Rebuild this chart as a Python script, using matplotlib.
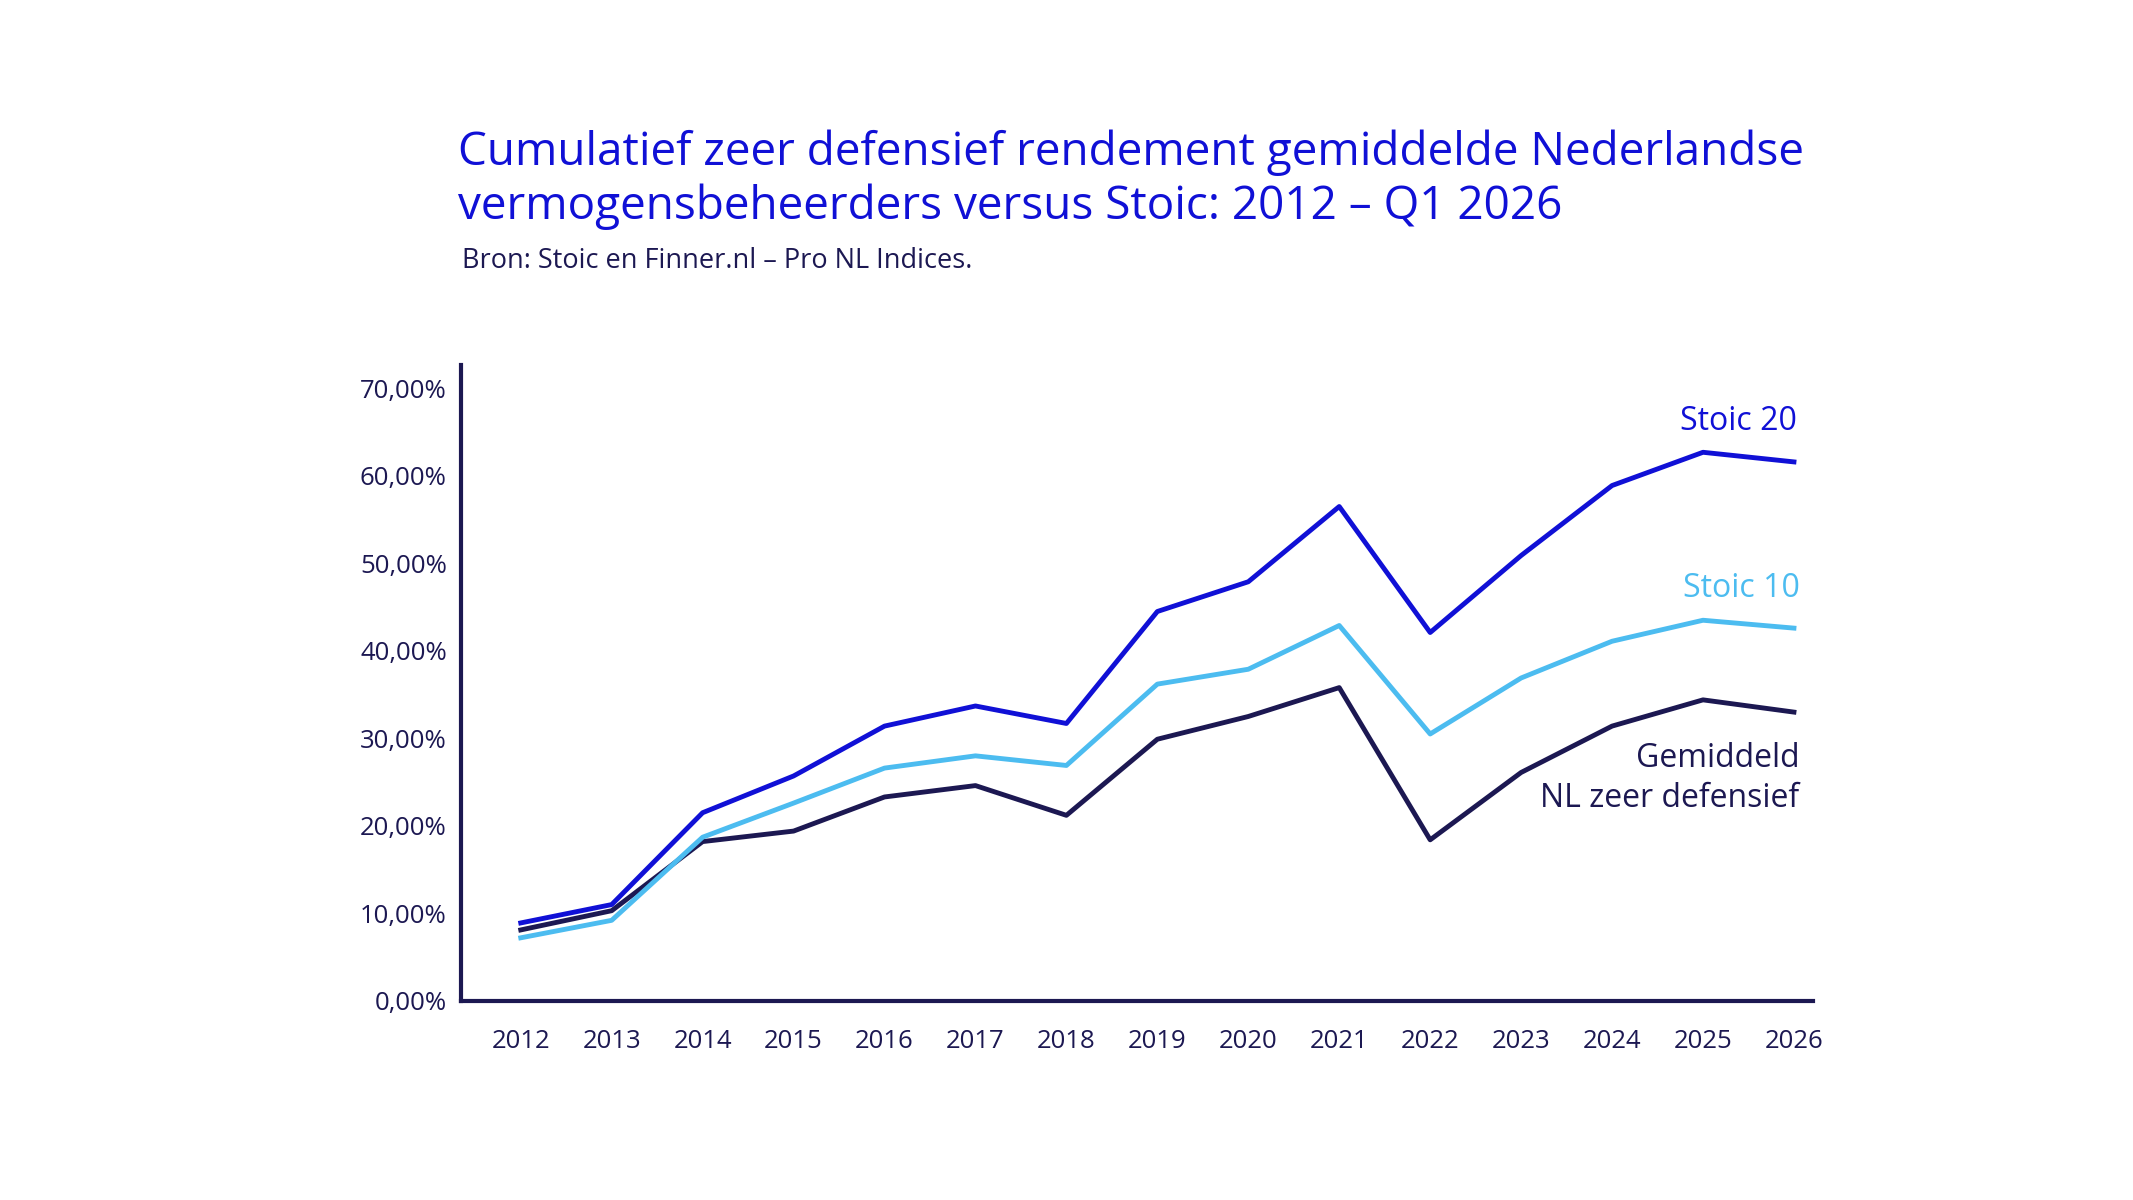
import matplotlib.pyplot as plt
from matplotlib.ticker import FuncFormatter

plt.rcParams["font.family"] = ["Open Sans", "DejaVu Sans"]

# Data (cumulatief rendement in %)
years = list(range(2012, 2027))
stoic20 = [8.9, 11.0, 21.5, 25.7, 31.4, 33.7, 31.7, 44.5, 47.9, 56.5, 42.1, 50.9, 58.9, 62.7, 61.6]
stoic10 = [7.2, 9.2, 18.7, 22.6, 26.6, 28.0, 26.9, 36.2, 37.9, 42.9, 30.5, 36.9, 41.1, 43.5, 42.6]
gemiddeld = [8.1, 10.3, 18.2, 19.4, 23.3, 24.6, 21.2, 29.9, 32.5, 35.8, 18.4, 26.1, 31.4, 34.4, 33.0]
yticks = [0, 10, 20, 30, 40, 50, 60, 70]

BLUE = "#1010d6"
LIGHT = "#4cbcf0"
NAVY = "#1c1852"

fig = plt.figure(figsize=(21.33, 12), dpi=100)
ax = fig.add_axes([0.216, 0.166, 0.634, 0.530])

ax.plot(years, gemiddeld, color=NAVY, linewidth=3.5)
ax.plot(years, stoic10, color=LIGHT, linewidth=3.5)
ax.plot(years, stoic20, color=BLUE, linewidth=3.5)

ax.set_xlim(2011.34, 2026.21)
ax.set_ylim(0, 72.7)
ax.set_xticks(years)
ax.set_yticks(yticks)
ax.yaxis.set_major_formatter(FuncFormatter(lambda v, p: f"{v:.2f}".replace(".", ",") + "%"))
ax.tick_params(axis="both", length=0, labelsize=18.5, colors=NAVY)
ax.tick_params(axis="x", pad=20)
ax.tick_params(axis="y", pad=10)

for s in ["top", "right"]:
    ax.spines[s].set_visible(False)
for s in ["left", "bottom"]:
    ax.spines[s].set_color(NAVY)
    ax.spines[s].set_linewidth(3)

# Series labels
ax.text(2026.03, 66.2, "Stoic 20", color=BLUE, fontsize=23, ha="right", va="center")
ax.text(2026.06, 47.1, "Stoic 10", color=LIGHT, fontsize=23, ha="right", va="center")
ax.text(2026.06, 25.4, "Gemiddeld\nNL zeer defensief", color=NAVY, fontsize=23,
        ha="right", va="center", multialignment="right", linespacing=1.3)

# Title and source
fig.text(0.2147, 0.8175, "Cumulatief zeer defensief rendement gemiddelde Nederlandse\n"
         "vermogensbeheerders versus Stoic: 2012 \u2013 Q1 2026",
         color=BLUE, fontsize=33, ha="left", va="baseline", linespacing=1.2)
fig.text(0.2165, 0.777, "Bron: Stoic en Finner.nl \u2013 Pro NL Indices.",
         color=NAVY, fontsize=19.5, ha="left", va="baseline")

fig.savefig("out.png", dpi=100, facecolor="white")
